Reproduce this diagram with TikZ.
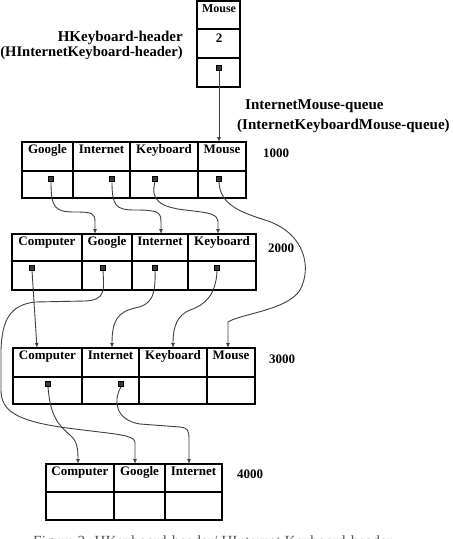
\documentclass[tikz,border=0pt]{standalone}
\usepackage{fontspec}
\setmainfont{Liberation Serif}
\usetikzlibrary{arrows.meta}
\tikzset{
 box/.style={draw=black, line width=1.1pt},
 hdr/.style={font=\fontsize{13}{15}\selectfont\bfseries, anchor=base, inner sep=0pt},
 ptr/.style={rectangle, draw=black, fill=gray!45!black, minimum size=5pt, inner sep=0pt, line width=0.6pt},
 link/.style={draw=black!75, line width=0.9pt, -{Latex[length=5pt,width=4pt]}},
 lbl/.style={font=\fontsize{15}{17}\selectfont\bfseries, inner sep=0pt},
 num/.style={font=\fontsize{13}{15}\selectfont\bfseries, anchor=base west, inner sep=0pt},
}
\begin{document}
\begin{tikzpicture}[x=1pt,y=-1pt]
\useasboundingbox[fill=white] (0,0) rectangle (453,539);

% ---------- top header box ----------
\draw[box] (197,1) rectangle (240,87);
\draw[box] (197,29) -- (240,29) (197,58) -- (240,58);
\node[hdr, font=\fontsize{12}{14}\selectfont\bfseries] (hm) at (219,12) {Mouse};
\node[hdr] (h2) at (219,42) {2};
\node[ptr] (hp) at (219,68) {};
\node[lbl, anchor=base east] (hk1) at (183,41) {HKeyboard-header};
\node[lbl, anchor=base east, font=\fontsize{14.6}{17}\selectfont\bfseries] (hk2) at (183,56) {(HInternetKeyboard-header)};
\node[lbl, anchor=base west] (q1) at (245,109) {InternetMouse-queue};
\node[lbl, anchor=base west] (q2) at (237,129) {(InternetKeyboardMouse-queue)};

% ---------- 1000 ----------
\draw[box] (22,142) rectangle (246,198);
\draw[box] (22,171) -- (246,171) (73,142) -- (73,198) (130,142) -- (130,198) (198,142) -- (198,198);
\node[hdr] (a1h) at (47.5,153.5) {Google};
\node[hdr] (a2h) at (101.5,153.5) {Internet};
\node[hdr] (a3h) at (164,153.5) {Keyboard};
\node[hdr] (a4h) at (222,153.5) {Mouse};
\node[num] (n1) at (263,157) {1000};
\node[ptr] (a1) at (51,179) {};
\node[ptr] (a2) at (112,179) {};
\node[ptr] (a3) at (155,179) {};
\node[ptr] (a4) at (219,179) {};
\coordinate (a4t) at (219,142);

% ---------- 2000 ----------
\draw[box] (12,234) rectangle (256,290);
\draw[box] (12,261) -- (256,261) (82,234) -- (82,290) (132,234) -- (132,290) (188,234) -- (188,290);
\node[hdr] (b1h) at (47,245.5) {Computer};
\node[hdr] (b2h) at (107,245.5) {Google};
\node[hdr] (b3h) at (160,245.5) {Internet};
\node[hdr] (b4h) at (222,245.5) {Keyboard};
\node[num] (n2) at (268,252) {2000};
\node[ptr] (b1) at (32,268) {};
\node[ptr] (b2) at (103,268) {};
\node[ptr] (b3) at (155,268) {};
\node[ptr] (b4) at (217,268) {};
\coordinate (b2t) at (95,234);
\coordinate (b3t) at (161,234);
\coordinate (b4t) at (218,234);

% ---------- 3000 ----------
\draw[box] (13,348) rectangle (255,404);
\draw[box] (13,377) -- (255,377) (82,348) -- (82,404) (139,348) -- (139,404) (207,348) -- (207,404);
\node[hdr] (c1h) at (47.5,359.5) {Computer};
\node[hdr] (c2h) at (110.5,359.5) {Internet};
\node[hdr] (c3h) at (173,359.5) {Keyboard};
\node[hdr] (c4h) at (231,359.5) {Mouse};
\node[num] (n3) at (269,363) {3000};
\node[ptr] (c1) at (48,384) {};
\node[ptr] (c2) at (121,384) {};
\coordinate (c1t) at (37,348);
\coordinate (c2t) at (112,348);
\coordinate (c3t) at (173,348);
\coordinate (c4t) at (228,348);

% ---------- 4000 ----------
\draw[box] (46,464) rectangle (222,520);
\draw[box] (46,492) -- (222,492) (114,464) -- (114,520) (165,464) -- (165,520);
\node[hdr] (d1h) at (80,475.5) {Computer};
\node[hdr] (d2h) at (139.5,475.5) {Google};
\node[hdr] (d3h) at (193.5,475.5) {Internet};
\node[num] (n4) at (237,478) {4000};
\coordinate (d1t) at (78,464);
\coordinate (d2t) at (135,464);
\coordinate (d3t) at (189,464);

% ---------- connectors ----------
\draw[link] (hp.south) -- (a4t);
\draw[link] (a1.south) .. controls (51,208) and (55,212) .. (75,212)
   .. controls (92,212) and (95,213) .. (95,222) -- (b2t);
\draw[link] (a2.south) .. controls (112,206) and (116,210) .. (135,210)
   .. controls (158,210) and (161,212) .. (161,222) -- (b3t);
\draw[link] (a3.south) .. controls (150,200) and (160,207) .. (185,210)
   .. controls (212,213) and (217,214) .. (218,222) -- (b4t);
\draw[link] (a4.south) .. controls (220,205) and (240,212) .. (268,221)
   .. controls (305,234) and (312,268) .. (300,290)
   .. controls (288,310) and (240,314) .. (228,322) -- (c4t);
\draw[link] (b1.south) -- (c1t);
\draw[link] (b2.south) .. controls (104,290) and (106,300) .. (85,301) -- (35,302)
   .. controls (10,305) and (2,320) .. (1,350) -- (1,390)
   .. controls (1,410) and (15,420) .. (60,427)
   .. controls (110,434) and (134,434) .. (135,442) -- (d2t);
\draw[link] (b3.south) .. controls (156,298) and (150,305) .. (135,308)
   .. controls (118,312) and (112,320) .. (c2t);
\draw[link] (b4.south) .. controls (216,295) and (205,305) .. (190,310)
   .. controls (178,315) and (173,325) .. (c3t);
\draw[link] (c1.south) .. controls (50,415) and (58,425) .. (70,435)
   .. controls (77,441) and (78,448) .. (d1t);
\draw[link] (c2.south) .. controls (113,400) and (115,420) .. (140,424) -- (180,427)
   .. controls (188,428) and (189,430) .. (189,440) -- (d3t);

% ---------- caption (cut off by the page edge, as in the reference) ----------
\node[font=\fontsize{15.5}{17}\selectfont, text=black!65, anchor=base west, inner sep=0pt] (cap) at (33,546) {Figure 3. HKeyboard-header/ HInternet Keyboard-header};
\end{tikzpicture}
\end{document}
